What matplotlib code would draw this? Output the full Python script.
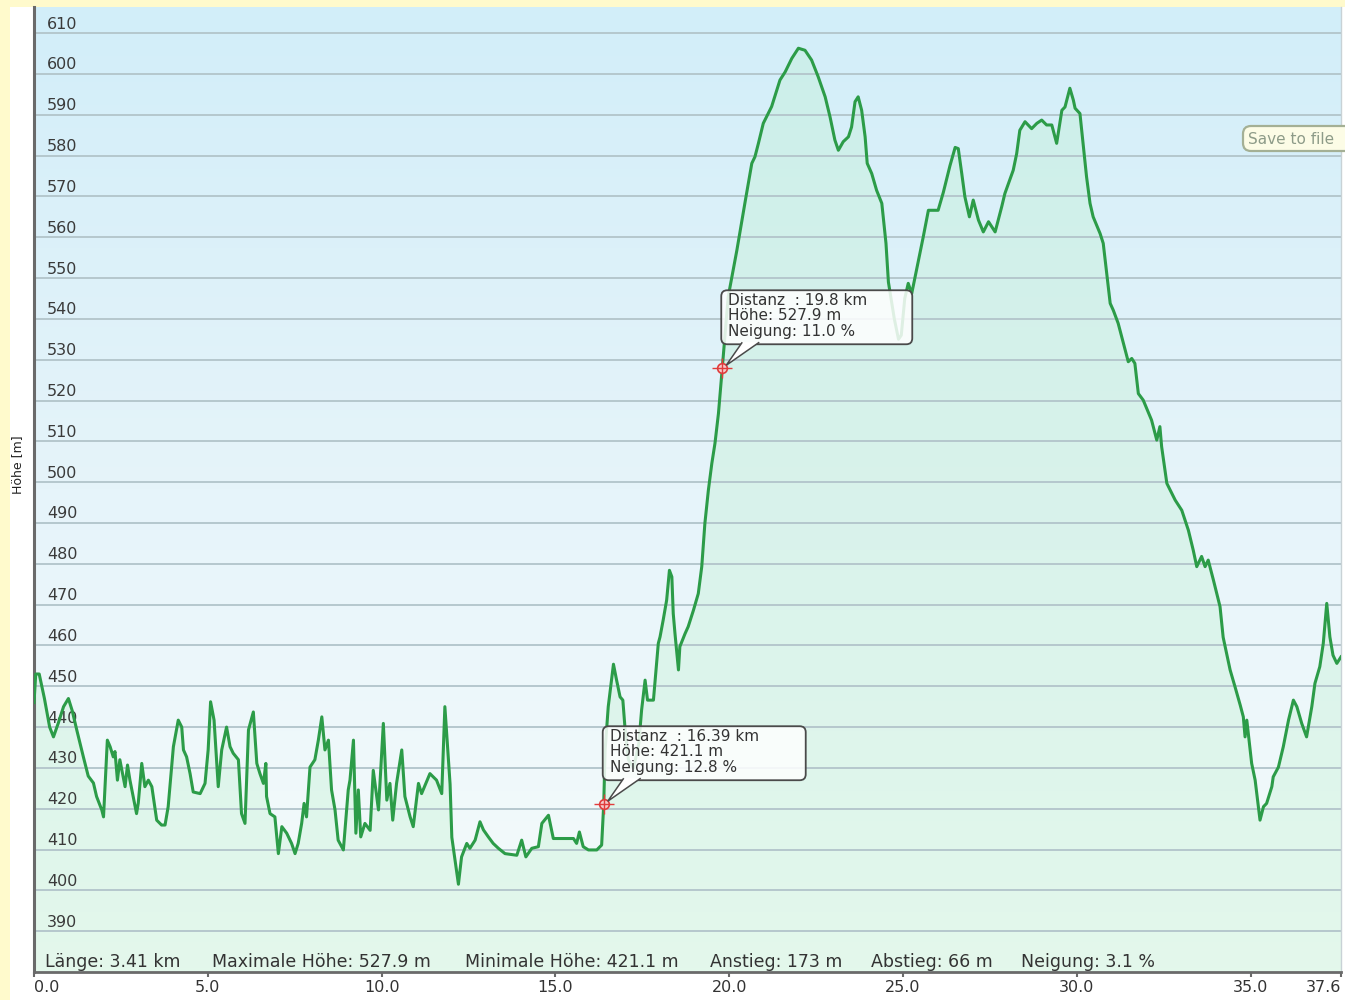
import numpy as np
import matplotlib
matplotlib.use("Agg")
import matplotlib.pyplot as plt
from matplotlib.colors import LinearSegmentedColormap
from matplotlib.patches import FancyBboxPatch, Polygon, Rectangle


# elevation profile (km, m)
DIST_KM = [
    0.00, 0.05, 0.15, 0.30, 0.45, 0.56, 0.70, 0.85, 0.99, 1.10,
    1.23, 1.42, 1.56, 1.71, 1.80, 1.95, 2.00, 2.11, 2.19, 2.28,
    2.33, 2.40, 2.47, 2.62, 2.69, 2.76, 2.95, 3.00, 3.10, 3.19,
    3.29, 3.39, 3.53, 3.67, 3.77, 3.86, 4.01, 4.15, 4.25, 4.30,
    4.39, 4.49, 4.58, 4.78, 4.92, 5.01, 5.08, 5.18, 5.30, 5.40,
    5.54, 5.64, 5.73, 5.88, 5.97, 6.07, 6.17, 6.31, 6.41, 6.50,
    6.60, 6.67, 6.69, 6.79, 6.93, 7.03, 7.13, 7.27, 7.41, 7.51,
    7.60, 7.70, 7.77, 7.84, 7.94, 8.08, 8.18, 8.28, 8.37, 8.47,
    8.56, 8.66, 8.75, 8.90, 9.04, 9.09, 9.19, 9.26, 9.33, 9.40,
    9.52, 9.67, 9.76, 9.91, 10.05, 10.15, 10.24, 10.32, 10.43, 10.58,
    10.67, 10.82, 10.91, 11.06, 11.15, 11.39, 11.58, 11.73, 11.82, 11.97,
    12.02, 12.21, 12.30, 12.45, 12.54, 12.69, 12.83, 12.93, 13.07, 13.21,
    13.36, 13.55, 13.89, 14.03, 14.15, 14.32, 14.51, 14.61, 14.80, 14.94,
    15.13, 15.52, 15.61, 15.69, 15.80, 15.95, 16.19, 16.33, 16.39, 16.43,
    16.52, 16.67, 16.76, 16.86, 16.94, 17.00, 17.10, 17.25, 17.40, 17.48,
    17.58, 17.65, 17.82, 17.96, 18.01, 18.10, 18.20, 18.28, 18.35, 18.39,
    18.44, 18.54, 18.58, 18.73, 18.82, 18.97, 19.11, 19.21, 19.30, 19.40,
    19.50, 19.59, 19.69, 19.80, 19.97, 20.22, 20.45, 20.65, 20.74, 20.84,
    20.98, 21.22, 21.46, 21.61, 21.80, 21.99, 22.18, 22.37, 22.56, 22.76,
    22.90, 23.04, 23.14, 23.28, 23.43, 23.52, 23.62, 23.71, 23.81, 23.91,
    23.97, 24.10, 24.24, 24.39, 24.43, 24.51, 24.58, 24.75, 24.87, 24.95,
    25.05, 25.15, 25.25, 25.39, 25.58, 25.73, 26.01, 26.16, 26.35, 26.50,
    26.59, 26.69, 26.78, 26.91, 27.02, 27.17, 27.31, 27.46, 27.65, 27.84,
    27.93, 28.17, 28.27, 28.36, 28.51, 28.70, 28.85, 28.99, 29.13, 29.28,
    29.42, 29.57, 29.66, 29.80, 29.90, 29.95, 30.09, 30.19, 30.28, 30.38,
    30.47, 30.67, 30.76, 30.86, 30.96, 31.05, 31.19, 31.34, 31.48, 31.58,
    31.67, 31.77, 31.91, 32.15, 32.30, 32.39, 32.44, 32.59, 32.83, 33.02,
    33.21, 33.35, 33.45, 33.59, 33.69, 33.78, 33.93, 34.12, 34.21, 34.41,
    34.55, 34.70, 34.79, 34.84, 34.89, 35.03, 35.13, 35.27, 35.37, 35.46,
    35.61, 35.65, 35.80, 35.94, 36.09, 36.23, 36.33, 36.47, 36.61, 36.76,
    36.85, 36.99, 37.09, 37.19, 37.28, 37.37, 37.48, 37.60,
]
ELEV_M = [
    446.0, 453.0, 453.0, 447.0, 440.0, 437.6, 441.0, 445.0, 447.0, 444.0,
    439.3, 432.7, 428.0, 426.3, 423.0, 419.7, 418.0, 436.8, 435.2, 432.7,
    434.0, 427.0, 432.0, 425.4, 430.7, 427.0, 418.8, 421.4, 431.1, 425.4,
    427.0, 425.4, 417.2, 416.0, 416.0, 420.5, 435.2, 441.7, 440.0, 434.4,
    432.7, 428.6, 424.1, 423.7, 426.2, 434.4, 446.2, 441.7, 425.4, 434.4,
    440.0, 435.2, 433.6, 432.0, 418.8, 416.4, 439.3, 443.7, 431.1, 428.6,
    426.2, 431.1, 423.0, 418.8, 418.0, 409.0, 415.6, 414.0, 411.5, 409.0,
    411.5, 416.4, 421.3, 418.0, 430.2, 432.0, 436.8, 442.5, 434.4, 436.8,
    424.6, 419.7, 412.3, 409.9, 424.6, 427.0, 436.8, 414.0, 424.6, 413.1,
    416.4, 414.7, 429.4, 419.7, 440.9, 422.1, 426.2, 417.2, 426.2, 434.4,
    423.0, 418.0, 415.6, 426.2, 423.7, 428.6, 427.0, 423.7, 445.0, 426.0,
    413.0, 401.5, 408.2, 411.5, 410.3, 412.3, 416.8, 414.8, 413.1, 411.5,
    410.3, 409.0, 408.6, 412.3, 408.2, 410.3, 410.7, 416.4, 418.4, 412.7,
    412.7, 412.7, 411.5, 414.3, 410.7, 409.9, 409.9, 411.1, 421.1, 434.4,
    445.0, 455.4, 451.5, 447.4, 446.6, 440.0, 432.0, 430.0, 436.0, 444.2,
    451.5, 446.6, 446.6, 460.5, 462.1, 466.2, 471.1, 478.4, 476.8, 467.8,
    462.9, 454.0, 459.7, 462.9, 464.6, 468.6, 472.7, 479.3, 489.9, 498.0,
    504.6, 509.5, 516.8, 527.9, 545.4, 556.8, 568.3, 578.1, 579.7, 583.0,
    587.9, 592.0, 598.5, 600.5, 603.8, 606.3, 605.8, 603.4, 599.3, 594.4,
    589.5, 583.8, 581.3, 583.4, 584.6, 587.0, 593.2, 594.4, 591.1, 584.6,
    578.1, 575.6, 571.5, 568.3, 565.0, 558.5, 549.0, 540.0, 535.0, 536.0,
    545.0, 548.7, 546.2, 552.0, 560.0, 566.6, 566.6, 571.0, 577.5, 582.0,
    581.7, 575.6, 569.9, 565.0, 569.1, 564.2, 561.3, 563.8, 561.3, 567.5,
    570.7, 576.4, 580.5, 586.2, 588.3, 586.6, 587.9, 588.7, 587.5, 587.5,
    583.0, 591.1, 591.9, 596.5, 593.6, 591.6, 590.3, 582.1, 574.8, 568.3,
    565.0, 560.9, 558.5, 551.1, 543.8, 542.1, 538.9, 534.0, 529.5, 530.3,
    529.1, 521.7, 520.1, 515.2, 510.3, 513.6, 508.7, 499.7, 495.6, 493.1,
    488.2, 483.3, 479.3, 481.8, 479.3, 480.9, 476.0, 469.5, 462.0, 454.0,
    449.9, 445.4, 442.5, 437.6, 441.7, 431.1, 427.0, 417.2, 420.5, 421.3,
    425.4, 427.8, 430.2, 435.2, 441.7, 446.6, 445.0, 440.9, 437.6, 445.0,
    450.7, 454.8, 460.5, 470.3, 462.1, 457.6, 455.6, 457.2,
]

Y_TICKS = list(range(390, 611, 10))
X_TICKS = [0.0, 5.0, 10.0, 15.0, 20.0, 25.0, 30.0, 35.0, 37.6]
X_TICK_LABELS = ["0.0", "5.0", "10.0", "15.0", "20.0", "25.0", "30.0", "35.0", "37.6"]

MARK_DIST = [16.39, 19.8]
MARK_ELEV = [421.1, 527.9]
MARK_SLOPE = [12.8, 11.0]

STATS_TEXT = [
    "Länge: 3.41 km",
    "Maximale Höhe: 527.9 m",
    "Minimale Höhe: 421.1 m",
    "Anstieg: 173 m",
    "Abstieg: 66 m",
    "Neigung: 3.1 %",
]
STATS_X = [45, 212, 465, 710, 871, 1021]

W, H = 1345, 1000
Y_MIN, Y_MAX = 380, 616.4

fig = plt.figure(figsize=(W / 100, H / 100), dpi=100, facecolor="#fffacc")


def fx(x):
    return x / W


def fy(y):
    return 1 - y / H


fig.add_artist(Rectangle((fx(10), 0), 1 - fx(10), fy(7), transform=fig.transFigure,
                         facecolor="white", edgecolor="none", zorder=-1))

ax = fig.add_axes([fx(34), fy(972), fx(1341) - fx(34), fy(7) - fy(972)])

# background gradient
grad = np.linspace(0, 1, 256).reshape(-1, 1)
bg = LinearSegmentedColormap.from_list("bg", ["#d2eef9", "#e6f4fa", "#f6fcfa"])
ax.imshow(grad, cmap=bg, aspect="auto", extent=[0, 37.6, Y_MIN, Y_MAX], zorder=0)
ax.set_xlim(0, 37.6)
ax.set_ylim(Y_MIN, Y_MAX)

ax.fill_between(DIST_KM, ELEV_M, Y_MIN, color="#bdf0cd", alpha=0.32, lw=0, zorder=0.5)

for v in Y_TICKS:
    ax.axhline(v, color="#b5c7cd", lw=1.4, zorder=1)
    ax.annotate(f"{v}", xy=(0, v), xycoords=("axes fraction", "data"),
                xytext=(13, 9), textcoords="offset pixels",
                fontsize=11.5, color="#3a3a3a", ha="left", va="center", zorder=2)

ax.plot(DIST_KM, ELEV_M, color="#2c9c48", lw=2.2, zorder=3, solid_joinstyle="round")

ax.plot(MARK_DIST, MARK_ELEV, "o", ms=7, mfc="#f6caca", mec="#e03c3c", mew=1.2, zorder=5)
ax.plot(MARK_DIST, MARK_ELEV, "+", ms=15, mew=1.0, color="#e03c3c", zorder=5)

ax.spines["top"].set_visible(False)
ax.spines["right"].set_color("#c8d2d6")
ax.spines["right"].set_linewidth(1)
ax.spines["left"].set_color("#6a6a6a")
ax.spines["left"].set_linewidth(2.2)
ax.spines["bottom"].set_color("#6a6a6a")
ax.spines["bottom"].set_linewidth(2)

ax.set_yticks([])
ax.set_xticks(X_TICKS, X_TICK_LABELS)
ax.tick_params(axis="x", direction="out", length=3.5, width=1.5, color="#6a6a6a",
               labelsize=11.5, labelcolor="#333333", pad=2)
labels = ax.get_xticklabels()
labels[0].set_ha("left")
labels[-1].set_ha("right")

# overlay in image pixel coords (y down)
ov = fig.add_axes([0, 0, 1, 1], zorder=5)
ov.set_xlim(0, W)
ov.set_ylim(H, 0)
ov.axis("off")


def callout(km, m, slope, box_w):
    px, py = ax.transData.transform((km, m))
    py = H - py
    left, top, bottom = px - 1, py - 78, py - 24
    ov.add_patch(FancyBboxPatch((left, top), box_w, bottom - top,
                                boxstyle="round,pad=0,rounding_size=6",
                                fc=(1, 1, 1, 0.85), ec="#4a4a4a", lw=1.3))
    ov.add_patch(Polygon([(px + 20, bottom - 2), (px + 4, py - 3), (px + 37, bottom - 2)],
                         closed=False, fc="white", ec="#4a4a4a", lw=1.1))
    rows = [f"Distanz  : {km} km", f"Höhe: {m} m", f"Neigung: {slope} %"]
    for i, s in enumerate(rows):
        ov.text(left + 7, py - 68 + i * 15.5, s, fontsize=11, color="#333333",
                ha="left", va="center")


callout(MARK_DIST[0], MARK_ELEV[0], MARK_SLOPE[0], 203)
callout(MARK_DIST[1], MARK_ELEV[1], MARK_SLOPE[1], 191)

for s, x in zip(STATS_TEXT, STATS_X):
    ov.text(x, 962, s, fontsize=12.5, color="#333333", ha="left", va="center")

ov.add_patch(FancyBboxPatch((1243, 126), 120, 25, boxstyle="round,pad=0,rounding_size=8",
                            fc="#fcfce6", ec="#a4b095", lw=1.6))
ov.text(1248, 139, "Save to file", fontsize=11, color="#8d9b88", ha="left", va="center")

ov.text(18, 465, "Höhe [m]", rotation=90, fontsize=9, color="#222222",
        ha="center", va="center")

fig.savefig("out.png", dpi=100, facecolor=fig.get_facecolor())
